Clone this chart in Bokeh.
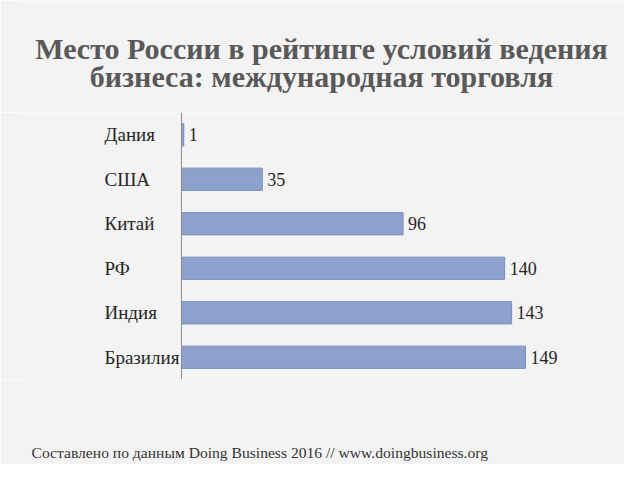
from bokeh.plotting import figure
from bokeh.layouts import column
from bokeh.models import ColumnDataSource, FactorRange, Range1d, Span, Label
from bokeh.core.properties import value
from bokeh.embed import file_html
from bokeh.resources import INLINE

countries = ["Дания", "США", "Китай", "РФ", "Индия", "Бразилия"]
ranks = [1, 35, 96, 140, 143, 149]
rank_labels = [str(r) for r in ranks]

title_line1 = "Место России в рейтинге условий ведения"
title_line2 = "бизнеса: международная торговля"
footnote = "Составлено по данным Doing Business 2016 // www.doingbusiness.org"

SERIF = "Liberation Serif"
BG = "#f3f3f3"


def blank(h):
    f = figure(width=624, height=h, x_range=Range1d(0, 1), y_range=Range1d(0, 1),
               output_backend="svg", toolbar_location=None,
               min_border_left=0, min_border_right=0, min_border_top=0, min_border_bottom=0)
    f.background_fill_color = BG
    f.border_fill_color = BG
    f.outline_line_color = None
    f.xaxis.visible = False
    f.yaxis.visible = False
    f.xgrid.visible = False
    f.ygrid.visible = False
    return f


header = blank(112)
for txt, yy in ((title_line1, 64), (title_line2, 36)):
    header.add_layout(Label(x=303, y=yy, x_units="screen", y_units="screen", text=txt,
                            text_font=SERIF, text_font_size="30px", text_font_style="bold",
                            text_align="center", text_baseline="middle",
                            text_color="#595959"))

src = ColumnDataSource(dict(country=countries, rank=ranks, label=rank_labels))

p = figure(
    frame_width=606, frame_height=267,
    y_range=FactorRange(*reversed(countries)),
    x_range=Range1d(-70.6, 191.9),
    output_backend="svg", toolbar_location=None,
    min_border_left=18, min_border_right=0, min_border_top=0, min_border_bottom=0,
)
p.background_fill_color = BG
p.border_fill_color = BG
p.outline_line_color = None
p.xaxis.visible = False
p.yaxis.visible = False
p.xgrid.visible = False
p.ygrid.visible = False

p.hbar(y="country", right="rank", left=0, height=0.5, source=src,
       fill_color="#8DA1CD", line_color="#7A8EBB", line_width=1)

p.add_layout(Span(location=0, dimension="height", line_color="#8c8c8c", line_width=1))

p.text(x=0, y="country", text="country", source=src, x_offset=-77,
       text_align="left", text_baseline="middle",
       text_font=value(SERIF), text_font_size="19px", text_color="#262626")

p.text(x="rank", y="country", text="label", source=src, x_offset=5,
       text_align="left", text_baseline="middle",
       text_font=value(SERIF), text_font_size="18px", text_color="#262626")

footer = blank(85)
footer.add_layout(Label(x=13, y=12, x_units="screen", y_units="screen", text=footnote,
                        text_font=SERIF, text_font_size="15.6px",
                        text_baseline="middle", text_color="#333333"))

layout = column(header, p, footer, spacing=0)

open("out.html", "w").write(file_html(layout, INLINE))
